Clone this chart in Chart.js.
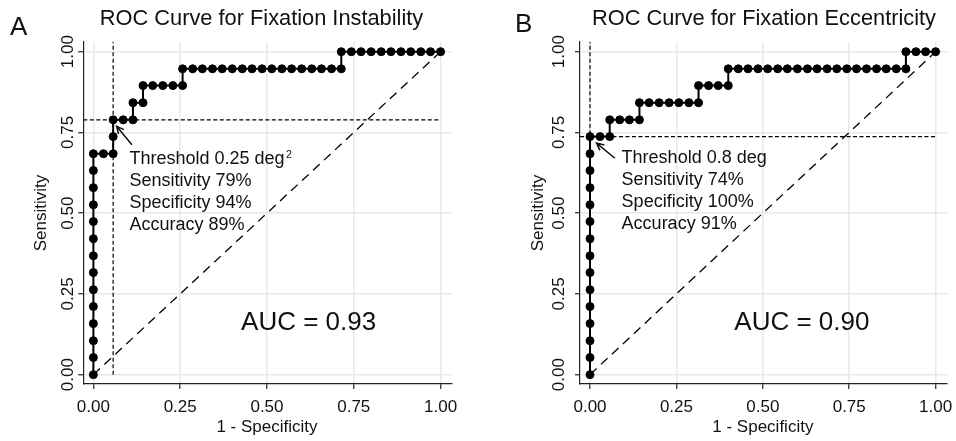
<!DOCTYPE html>
<html>
<head>
<meta charset="utf-8">
<script src="https://cdn.jsdelivr.net/npm/chart.js@4/dist/chart.umd.min.js"></script>
<style>
  html, body { margin: 0; padding: 0; background: #fff; }
  #wrap { position: relative; width: 956px; height: 441px; }
  canvas { position: absolute; top: 0; }
  #panelA { left: 0; }
  #panelB { left: 478px; }
</style>
</head>
<body>
<div id="wrap">
  <canvas id="panelA" width="478" height="441"></canvas>
  <canvas id="panelB" width="478" height="441"></canvas>
</div>
<script>
// axis ticks shared by both panels
const tickVals = [0, 0.25, 0.5, 0.75, 1];
const tickText = ["0.00", "0.25", "0.50", "0.75", "1.00"];

// Panel A: fixation instability (1 - specificity, sensitivity)
const fprA = [
  0, 0, 0, 0, 0, 0, 0, 0, 0, 0, 0, 0, 0, 0,
  0.029, 0.057, 0.057, 0.057, 0.086, 0.114, 0.114, 0.143, 0.143,
  0.171, 0.2, 0.229, 0.257, 0.257,
  0.286, 0.314, 0.343, 0.371, 0.4, 0.429, 0.457, 0.486, 0.514, 0.543,
  0.571, 0.6, 0.629, 0.657, 0.686, 0.714, 0.714,
  0.743, 0.771, 0.8, 0.829, 0.857, 0.886, 0.914, 0.943, 0.971, 1,
];
const tprA = [
  0, 0.053, 0.105, 0.158, 0.211, 0.263, 0.316, 0.368, 0.421, 0.474, 0.526, 0.579, 0.632, 0.684,
  0.684, 0.684, 0.737, 0.789, 0.789, 0.789, 0.842, 0.842, 0.895,
  0.895, 0.895, 0.895, 0.895, 0.947,
  0.947, 0.947, 0.947, 0.947, 0.947, 0.947, 0.947, 0.947, 0.947, 0.947,
  0.947, 0.947, 0.947, 0.947, 0.947, 0.947, 1,
  1, 1, 1, 1, 1, 1, 1, 1, 1, 1,
];
const cutA = [0.057, 0.789];
const noteA = ["Threshold 0.25 deg", "Sensitivity 79%", "Specificity 94%", "Accuracy 89%"];
const aucA = "AUC = 0.93";

// Panel B: fixation eccentricity
const fprB = [
  0, 0, 0, 0, 0, 0, 0, 0, 0, 0, 0, 0, 0, 0, 0,
  0.029, 0.057, 0.057, 0.086, 0.114, 0.143, 0.143,
  0.171, 0.2, 0.229, 0.257, 0.286, 0.314, 0.314,
  0.343, 0.371, 0.4, 0.4,
  0.429, 0.457, 0.486, 0.514, 0.543, 0.571, 0.6, 0.629, 0.657,
  0.686, 0.714, 0.743, 0.771, 0.8, 0.829, 0.857, 0.886, 0.914, 0.914,
  0.943, 0.971, 1,
];
const tprB = [
  0, 0.053, 0.105, 0.158, 0.211, 0.263, 0.316, 0.368, 0.421, 0.474, 0.526, 0.579, 0.632, 0.684, 0.737,
  0.737, 0.737, 0.789, 0.789, 0.789, 0.789, 0.842,
  0.842, 0.842, 0.842, 0.842, 0.842, 0.842, 0.895,
  0.895, 0.895, 0.895, 0.947,
  0.947, 0.947, 0.947, 0.947, 0.947, 0.947, 0.947, 0.947, 0.947,
  0.947, 0.947, 0.947, 0.947, 0.947, 0.947, 0.947, 0.947, 0.947, 1,
  1, 1, 1,
];
const cutB = [0, 0.737];
const noteB = ["Threshold 0.8 deg", "Sensitivity 74%", "Specificity 100%", "Accuracy 91%"];
const aucB = "AUC = 0.90";

const X_MIN = -0.029, X_MAX = 1.032, Y_MIN = -0.029, Y_MAX = 1.03;
const FONT = '"Liberation Sans", Arial, Helvetica, sans-serif';
const font = (px) => px + "px " + FONT;
const INK = "#111";

// Stata-like text: titles, rotated y tick labels, annotation, arrow
const stataText = {
  id: "stataText",
  afterDatasetsDraw(chart, args, o) {
    const { ctx } = chart;
    const x = chart.scales.x, y = chart.scales.y;
    ctx.save();
    ctx.fillStyle = INK;
    ctx.strokeStyle = INK;
    ctx.textBaseline = "alphabetic";

    ctx.font = font(26);
    ctx.textAlign = "left";
    ctx.fillText(o.letter, o.letterX, o.letterY);

    ctx.font = font(21.8);
    ctx.textAlign = "center";
    ctx.fillText(o.title, o.titleX, 25);

    ctx.font = font(17);
    tickVals.forEach((v, i) => ctx.fillText(tickText[i], x.getPixelForValue(v), 412));
    const midX = (x.getPixelForValue(0) + x.getPixelForValue(1)) / 2;
    ctx.fillText("1 - Specificity", midX, 432);

    tickVals.forEach((v, i) => {
      ctx.save();
      ctx.translate(o.yTickX + 6.1, y.getPixelForValue(v));
      ctx.rotate(-Math.PI / 2);
      ctx.fillText(tickText[i], 0, 0);
      ctx.restore();
    });
    ctx.save();
    ctx.translate(o.yTitleX + 5, (chart.chartArea.top + chart.chartArea.bottom) / 2);
    ctx.rotate(-Math.PI / 2);
    ctx.fillText("Sensitivity", 0, 0);
    ctx.restore();

    // threshold note
    const nx = x.getPixelForValue(o.noteAt[0]), ny = y.getPixelForValue(o.noteAt[1]);
    ctx.font = font(18);
    ctx.textAlign = "left";
    o.note.forEach((t, i) => ctx.fillText(t, nx, ny + i * 22));
    if (o.sup) {
      const w = ctx.measureText(o.note[0]).width;
      ctx.font = font(10.5);
      ctx.fillText(o.sup, nx + w + 1.5, ny - 6);
    }

    // arrow to the threshold point
    const tx = x.getPixelForValue(o.arrowTail[0]), ty = y.getPixelForValue(o.arrowTail[1]);
    const hx = x.getPixelForValue(o.arrowHead[0]), hy = y.getPixelForValue(o.arrowHead[1]);
    const ang = Math.atan2(hy - ty, hx - tx);
    ctx.lineWidth = 1.5;
    ctx.beginPath();
    ctx.moveTo(tx, ty);
    ctx.lineTo(hx, hy);
    ctx.moveTo(hx - 8 * Math.cos(ang - 0.45), hy - 8 * Math.sin(ang - 0.45));
    ctx.lineTo(hx, hy);
    ctx.lineTo(hx - 8 * Math.cos(ang + 0.45), hy - 8 * Math.sin(ang + 0.45));
    ctx.stroke();

    ctx.font = font(26);
    ctx.textAlign = "center";
    ctx.fillText(o.auc, x.getPixelForValue(o.aucAt[0]), y.getPixelForValue(o.aucAt[1]));
    ctx.restore();
  },
};

function axis(min, max) {
  return {
    type: "linear",
    min,
    max,
    afterBuildTicks: (scale) => { scale.ticks = tickVals.map((v) => ({ value: v })); },
    ticks: { display: false },
    grid: { color: "#e8e8e8", lineWidth: 1.5, tickLength: 5, tickColor: "#222", tickWidth: 1.2 },
    border: { color: "#222", width: 1.2 },
  };
}

function buildPanel(canvas, fpr, tpr, cut, padding, text) {
  const curve = fpr.map((v, i) => ({ x: v, y: tpr[i] }));
  return new Chart(canvas, {
    type: "scatter",
    data: {
      datasets: [
        {
          data: curve,
          showLine: true,
          borderColor: "#000",
          borderWidth: 2,
          pointRadius: 4,
          pointBorderWidth: 1,
          pointBackgroundColor: "#000",
          pointBorderColor: "#000",
        },
        {
          data: [{ x: cut[0], y: 0 }, { x: cut[0], y: Y_MAX }],
          showLine: true,
          borderColor: "#000",
          borderWidth: 1.2,
          borderDash: [4, 2.5],
          pointRadius: 0,
        },
        {
          data: [{ x: X_MIN, y: cut[1] }, { x: 1, y: cut[1] }],
          showLine: true,
          borderColor: "#000",
          borderWidth: 1.2,
          borderDash: [4, 2.5],
          pointRadius: 0,
        },
        {
          data: [{ x: 0, y: 0 }, { x: 1, y: 1 }],
          showLine: true,
          borderColor: "#000",
          borderWidth: 1.3,
          borderDash: [9, 6],
          pointRadius: 0,
        },
      ],
    },
    options: {
      responsive: false,
      animation: false,
      devicePixelRatio: 1,
      layout: { padding },
      scales: { x: axis(X_MIN, X_MAX), y: axis(Y_MIN, Y_MAX) },
      plugins: {
        legend: { display: false },
        tooltip: { enabled: false },
        stataText: text,
      },
    },
    plugins: [stataText],
  });
}

buildPanel(document.getElementById("panelA"), fprA, tprA, cutA,
  { left: 78.3, right: 26.3, top: 42, bottom: 52 },
  {
    letter: "A", letterX: 10, letterY: 35,
    title: "ROC Curve for Fixation Instability", titleX: 261.5,
    yTickX: 66.7, yTitleX: 40.7,
    note: noteA, sup: "2", noteAt: [0.104, 0.653],
    arrowTail: [0.111, 0.712], arrowHead: [0.067, 0.769],
    auc: aucA, aucAt: [0.62, 0.139],
  });

buildPanel(document.getElementById("panelB"), fprB, tprB, cutB,
  { left: 97, right: 9.3, top: 42, bottom: 52 },
  {
    letter: "B", letterX: 37, letterY: 31.7,
    title: "ROC Curve for Fixation Eccentricity", titleX: 286,
    yTickX: 80.3, yTitleX: 60,
    note: noteB, sup: "", noteAt: [0.0914, 0.655],
    arrowTail: [0.072, 0.67], arrowHead: [0.019, 0.717],
    auc: aucB, aucAt: [0.613, 0.139],
  });
</script>
</body>
</html>
